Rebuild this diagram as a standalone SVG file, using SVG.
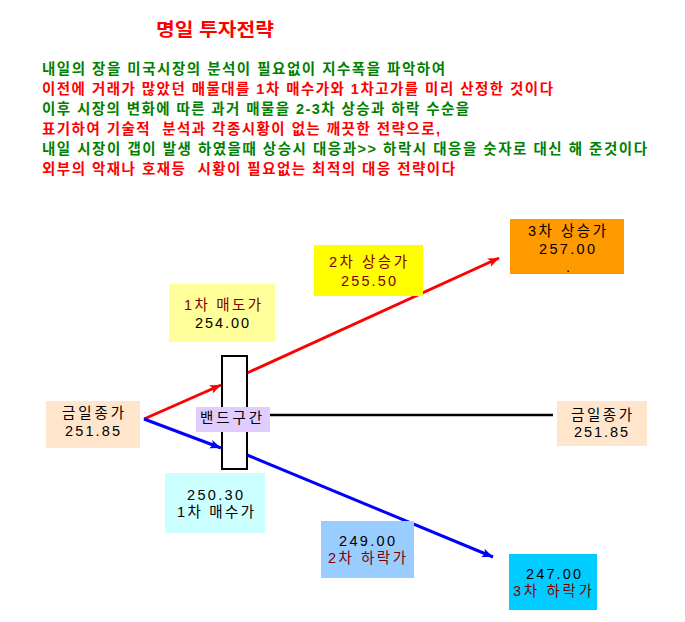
<svg xmlns="http://www.w3.org/2000/svg" width="685" height="622" viewBox="0 0 685 622">
<defs>
<style>
text{font-family:"Liberation Sans","Noto Sans CJK KR",sans-serif;}
.title{font-size:18px;font-weight:bold;fill:#FF0000;}
.ln{font-size:14.5px;font-weight:bold;}
.g{fill:#008000;}
.r{fill:#FF0000;}
.bt{font-size:14.5px;fill:#000000;}
.dr{fill:#800000;}
.red{stroke:#FF0000;stroke-width:3;fill:none;}
.blue{stroke:#0000FF;stroke-width:3;fill:none;}
.blk{stroke:#000000;stroke-width:2.5;fill:none;}
</style>
<marker id="ar" markerUnits="userSpaceOnUse" markerWidth="12" markerHeight="10" viewBox="0 0 12 10" refX="11" refY="5" orient="auto">
<path d="M0,0.5 L11,5 L0,9.5 L2.5,5 Z" fill="#FF0000"/>
</marker>
<marker id="ab" markerUnits="userSpaceOnUse" markerWidth="12" markerHeight="10" viewBox="0 0 12 10" refX="11" refY="5" orient="auto">
<path d="M0,0.5 L11,5 L0,9.5 L2.5,5 Z" fill="#0000FF"/>
</marker>
</defs>
<rect width="685" height="622" fill="#FFFFFF"/>

<g id="header">
<text class="title" x="156" y="36" textLength="118" lengthAdjust="spacingAndGlyphs">명일 투자전략</text>
<text class="ln g" x="42" y="74" textLength="403">내일의 장을 미국시장의 분석이 필요없이 지수폭을 파악하여</text>
<text class="ln r" x="42" y="94" textLength="511">이전에 거래가 많았던 매물대를 1차 매수가와 1차고가를 미리 산정한 것이다</text>
<text class="ln g" x="42" y="114" textLength="427">이후 시장의 변화에 따른 과거 매물을 2-3차 상승과 하락 수순을</text>
<text class="ln r" x="42" y="134" textLength="398" xml:space="preserve">표기하여 기술적  분석과 각종시황이 없는 깨끗한 전략으로,</text>
<text class="ln g" x="42" y="154" textLength="605">내일 시장이 갭이 발생 하였을때 상승시 대응과&gt;&gt; 하락시 대응을 숫자로 대신 해 준것이다</text>
<text class="ln r" x="42" y="174" textLength="413" xml:space="preserve">외부의 악재나 호재등  시황이 필요없는 최적의 대응 전략이다</text>
</g>

<g id="connectors">
<line class="red" x1="144" y1="419" x2="221" y2="385" marker-end="url(#ar)"/>
<line class="red" x1="247" y1="373" x2="499" y2="258" marker-end="url(#ar)"/>
<line class="blue" x1="144" y1="419" x2="221" y2="448" marker-end="url(#ab)"/>
<line class="blue" x1="247" y1="455" x2="493" y2="557" marker-end="url(#ab)"/>
<line class="blk" x1="270" y1="415" x2="553" y2="415"/>
</g>

<g id="band">
<rect x="222" y="356" width="25" height="113" fill="#FFFFFF" stroke="#000000" stroke-width="2"/>
</g>

<g id="band-label">
<rect x="196" y="407" width="74" height="25" fill="#E0CCFF"/>
<text class="bt" x="200" y="423" textLength="62">밴드구간</text>
</g>

<g id="close-left">
<rect x="46" y="401" width="94" height="47" fill="#FFE5CC"/>
<text class="bt" x="62" y="418" textLength="62">금일종가</text>
<text class="bt" x="65" y="436" textLength="55">251.85</text>
</g>

<g id="close-right">
<rect x="557" y="401" width="90" height="45" fill="#FFE5CC"/>
<text class="bt" x="571" y="420" textLength="61">금일종가</text>
<text class="bt" x="574" y="437" textLength="54">251.85</text>
</g>

<g id="sell1">
<rect x="169" y="284" width="106" height="58" fill="#FFFF99"/>
<text class="bt dr" x="184" y="310" textLength="77">1차 매도가</text>
<text class="bt" x="195" y="328" textLength="54">254.00</text>
</g>

<g id="up2">
<rect x="314" y="245" width="109" height="51" fill="#FFFF00"/>
<text class="bt dr" x="329" y="267" textLength="78">2차 상승가</text>
<text class="bt dr" x="341" y="286" textLength="55">255.50</text>
</g>

<g id="up3">
<rect x="510" y="219" width="114" height="55" fill="#FF9900"/>
<text class="bt" x="528" y="236" textLength="78">3차 상승가</text>
<text class="bt" x="539" y="254" textLength="56">257.00</text>
<text class="bt" x="566" y="272">.</text>
</g>

<g id="buy1">
<rect x="165" y="473" width="100" height="60" fill="#CCFFFF"/>
<text class="bt" x="187" y="500" textLength="56">250.30</text>
<text class="bt" x="177" y="517" textLength="77">1차 매수가</text>
</g>

<g id="down2">
<rect x="321" y="521" width="93" height="57" fill="#99CCFF"/>
<text class="bt" x="339" y="546" textLength="56">249.00</text>
<text class="bt dr" x="328" y="563" textLength="78">2차 하락가</text>
</g>

<g id="down3">
<rect x="509" y="554" width="88" height="56" fill="#00CCFF"/>
<text class="bt" x="526" y="579" textLength="55">247.00</text>
<text class="bt dr" x="513" y="596" textLength="79">3차 하락가</text>
</g>
</svg>
